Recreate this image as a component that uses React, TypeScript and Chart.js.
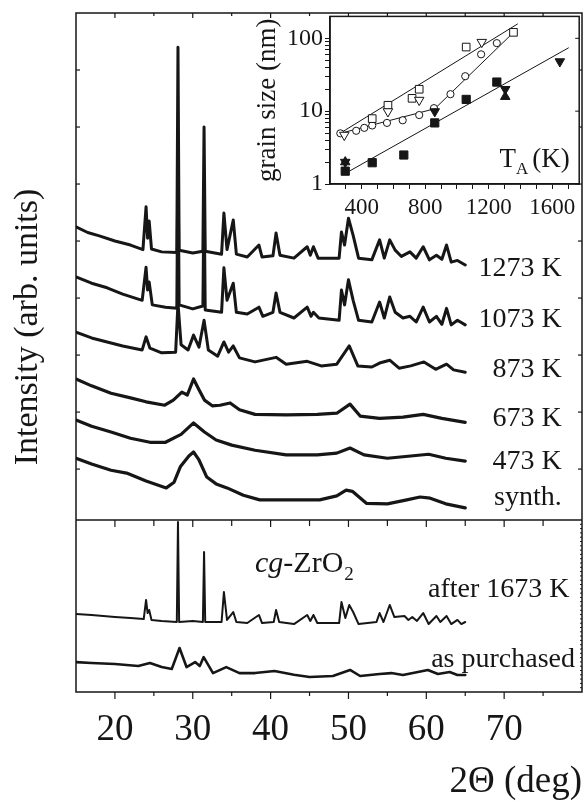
import React, { useEffect, useRef } from 'react';
import { Chart, registerables } from 'chart.js';

Chart.register(...registerables);

const SERIF = '"Liberation Serif", "Times New Roman", serif';
const INK = '#161616';

// ---------- main XRD panel ----------
const X_MIN = 15;
const X_MAX = 80;
const X_LABELED = [20, 30, 40, 50, 60, 70];
const X_MAJOR = [20, 30, 40, 50, 60, 70];
const X_MINOR = [25, 35, 45, 55, 65, 75];
const UP_MIN = -3.91;
const UP_MAX = 8;
const UP_TICKS = [0, 1, 2, 3, 4, 5, 6, 7];
const LOW_MIN = 0;
const LOW_MAX = 39.48;
const LOW_TOP = 10;
const Y_TITLE = '      Intensity (arb. units)';

// upper panel traces: [2theta (deg), intensity (arb. units)]
const T1273: [number, number][] = [
  [15, 4.25], [16.5, 4.15], [18, 4.09], [20, 4.0], [22, 3.93], [23.6, 3.85], [24.0, 4.6], [24.2, 4.05],
  [24.4, 4.35], [24.7, 3.86], [26, 3.81], [27.95, 3.8], [28.1, 7.4], [28.25, 3.84], [30, 3.79], [31.3, 3.82],
  [31.45, 6.0], [31.6, 3.82], [33.7, 3.77], [34.0, 4.49], [34.4, 3.85], [35.2, 4.37], [35.6, 3.77], [37, 3.72],
  [38.5, 3.93], [38.9, 3.72], [40.3, 3.74], [40.7, 4.14], [41.2, 3.75], [43, 3.7], [44.7, 3.9], [45.1, 3.75],
  [45.5, 3.9], [46.1, 3.7], [48.8, 3.7], [49.1, 4.16], [49.5, 3.93], [50.0, 4.4], [50.6, 4.1], [51.3, 3.7],
  [53, 3.67], [54.0, 4.02], [54.6, 3.7], [55.3, 4.02], [56.0, 3.84], [56.8, 3.73], [57.9, 3.81], [58.7, 3.7],
  [59.6, 3.9], [60.4, 3.67], [61.3, 3.75], [62.0, 3.68], [62.6, 3.93], [63.2, 3.63], [64.0, 3.66], [65, 3.58],
];
const T1073: [number, number][] = [
  [15, 3.37], [17, 3.26], [19, 3.18], [21, 3.07], [23.5, 2.96], [24.0, 3.54], [24.2, 3.14], [24.4, 3.28],
  [24.8, 2.88], [26.5, 2.84], [27.95, 2.82], [28.1, 5.6], [28.25, 2.88], [30, 2.81], [31.3, 2.86], [31.45, 4.89],
  [31.6, 2.79], [33.7, 2.75], [34.0, 3.53], [34.4, 2.96], [35.2, 3.26], [35.6, 2.75], [37, 2.72], [38.5, 2.84],
  [39, 2.68], [40.3, 2.75], [40.7, 3.09], [41.2, 2.75], [43, 2.65], [44.7, 2.84], [45.2, 2.68], [45.5, 2.75],
  [46.2, 2.65], [48.8, 2.61], [49.1, 3.14], [49.5, 2.88], [50.0, 3.32], [50.6, 2.96], [51.3, 2.61], [53, 2.58],
  [54.0, 2.93], [54.6, 2.65], [55.3, 3.02], [56.0, 2.75], [57, 2.65], [57.9, 2.68], [58.7, 2.58], [59.6, 2.84],
  [60.4, 2.58], [61.3, 2.68], [62.0, 2.54], [62.6, 2.82], [63.2, 2.53], [64.0, 2.61], [65, 2.53],
];
const T873: [number, number][] = [
  [15, 2.4], [17, 2.3], [19, 2.23], [21, 2.16], [23.5, 2.09], [24.0, 2.32], [24.5, 2.12], [26, 2.04],
  [27.8, 2.05], [28.1, 2.91], [28.5, 2.18], [29.4, 2.09], [30.1, 2.35], [30.8, 2.14], [31.45, 2.61], [32.0, 2.09],
  [33.2, 1.98], [34.0, 2.23], [34.6, 2.05], [35.2, 2.16], [36, 1.95], [38, 1.88], [40.7, 1.96], [42, 1.84],
  [44.7, 1.89], [46.5, 1.81], [48.5, 1.84], [50.1, 2.16], [51.2, 1.81], [53, 1.79], [54, 1.86], [55.3, 1.91],
  [56.5, 1.77], [58, 1.81], [59.7, 1.88], [61.2, 1.75], [62.6, 1.84], [63.5, 1.74], [65, 1.7],
];
const T673: [number, number][] = [
  [15, 1.58], [17, 1.46], [19.5, 1.33], [22, 1.25], [24, 1.18], [26.4, 1.12], [27.5, 1.21], [28.6, 1.35],
  [29.3, 1.3], [30.1, 1.58], [30.8, 1.39], [31.5, 1.21], [32.5, 1.11], [33.5, 1.12], [34.8, 1.16], [36, 1.04],
  [38, 0.96], [42, 0.95], [46, 0.96], [48.5, 0.98], [50.2, 1.14], [51.5, 0.93], [54, 0.89], [57, 0.91],
  [59.6, 0.96], [62, 0.89], [65, 0.82],
];
const T473: [number, number][] = [
  [15, 0.86], [17, 0.75], [19.5, 0.65], [22, 0.54], [24.5, 0.47], [26.5, 0.47], [28.5, 0.61], [30.1, 0.81],
  [31.5, 0.65], [33, 0.51], [35, 0.42], [38, 0.33], [42, 0.25], [46, 0.25], [48.5, 0.28], [50.2, 0.37],
  [52, 0.25], [55, 0.19], [58, 0.23], [60.3, 0.26], [62.5, 0.19], [65, 0.14],
];
const TSYNTH: [number, number][] = [
  [15, 0.19], [17, 0.09], [19.5, -0.02], [21.5, -0.07], [24, -0.21], [26.6, -0.33], [27.6, -0.23], [28.4, 0.04],
  [29.5, 0.23], [30.1, 0.3], [30.8, 0.16], [31.8, -0.14], [33, -0.26], [34.4, -0.33], [36.5, -0.46], [38.6, -0.54],
  [42, -0.54], [46.3, -0.54], [48.5, -0.47], [49.7, -0.37], [50.5, -0.39], [52.3, -0.6], [55, -0.61], [57.5, -0.54],
  [59.2, -0.49], [60.5, -0.51], [62.5, -0.61], [65, -0.68],
];

// lower panel traces (coarse-grained reference ZrO2)
const T1673: [number, number][] = [
  [15, 4.53], [17, 4.48], [20, 4.36], [22, 4.3], [23.7, 4.24], [24.0, 5.35], [24.2, 4.59], [24.4, 4.77],
  [24.7, 4.19], [26, 4.13], [27.95, 4.07], [28.1, 9.88], [28.25, 4.07], [30, 4.13], [31.3, 4.07], [31.45, 8.14],
  [31.6, 4.07], [33.7, 4.07], [34.0, 5.81], [34.4, 4.19], [35.2, 4.65], [35.6, 4.07], [37, 4.01], [38.5, 4.48],
  [38.9, 4.01], [40.4, 4.07], [40.7, 4.77], [41.1, 4.07], [43, 3.95], [44.7, 4.48], [45.1, 4.13], [45.5, 4.48],
  [46, 4.01], [48.8, 4.01], [49.1, 5.23], [49.6, 4.3], [50.1, 5.06], [50.6, 4.65], [51.3, 3.95], [53.6, 4.07],
  [54.0, 4.59], [54.5, 4.07], [55.3, 5.06], [55.9, 4.36], [57.2, 4.42], [57.7, 4.19], [58.2, 4.36], [58.8, 4.13],
  [59.6, 4.59], [60.3, 3.95], [61.3, 4.42], [61.8, 4.07], [62.6, 4.42], [63.2, 3.95], [64.0, 4.19], [64.5, 3.95],
  [65, 4.07],
];
const TPURCH: [number, number][] = [
  [15, 1.74], [17, 1.69], [20, 1.63], [23, 1.51], [24.5, 1.69], [26, 1.45], [27.3, 1.34], [28.3, 2.56],
  [29.2, 1.45], [30.3, 1.74], [30.9, 1.51], [31.4, 2.03], [32.6, 1.1], [34.3, 1.45], [36, 1.1], [38, 1.1],
  [40.5, 1.22], [43, 1.0], [45, 0.87], [48, 0.93], [50.2, 1.28], [51.5, 0.93], [54, 1.05], [55.5, 1.1],
  [57, 0.99], [60.2, 1.28], [61.5, 1.05], [63, 1.16], [64, 0.99], [65, 0.99],
];

const TRACE_LABELS = [
  { text: '1273 K', x: 77.4, y: 3.39, axis: 'y' },
  { text: '1073 K', x: 77.4, y: 2.49, axis: 'y' },
  { text: '873 K', x: 77.4, y: 1.61, axis: 'y' },
  { text: '673 K', x: 77.4, y: 0.75, axis: 'y' },
  { text: '473 K', x: 77.4, y: 0.0, axis: 'y' },
  { text: 'synth.', x: 77.4, y: -0.63, axis: 'y' },
  { text: 'after 1673 K', x: 78.4, y: 5.52, axis: 'yL' },
  { text: 'as purchased', x: 79.1, y: 1.45, axis: 'yL' },
];
const CG_LABEL = { x: 38.0, y: 6.98 };

// ---------- inset: grain size vs annealing temperature ----------
const K_MIN = 200;
const K_MAX = 1770;
const K_TICKS = [300, 400, 500, 600, 700, 800, 900, 1000, 1100, 1200, 1300, 1400, 1500, 1600, 1700];
const K_LABELS = [400, 800, 1200, 1600];
const G_MIN = 1;
const G_MAX = 200;
const G_TICKS = [1, 2, 3, 4, 5, 6, 7, 8, 9, 10, 20, 30, 40, 50, 60, 70, 80, 90, 100];
const G_LABELS = [1, 10, 100];
const G_RIGHT_TICKS = [1, 10, 100];

const OPEN_CIRCLE: [number, number][] = [
  [265, 4.96], [365, 5.38], [416, 5.9], [466, 6.36], [559, 6.9], [658, 7.5], [762, 8.84], [855, 11],
  [959, 17.1], [1052, 30.2], [1152, 60.3], [1251, 85.9],
];
const OPEN_SQUARE: [number, number][] = [
  [466, 7.9], [565, 12.05], [717, 15], [762, 20], [1058, 75.9], [1356, 120.8],
];
const OPEN_DOWN: [number, number][] = [
  [290, 4.7], [565, 9.9], [762, 14.2], [1156, 88.6],
];
const FILLED_SQUARE: [number, number][] = [
  [296, 1.5], [466, 1.96], [665, 2.5], [860, 6.9], [1058, 14.5], [1251, 25.1],
];
const FILLED_DOWN: [number, number][] = [
  [296, 2.0], [860, 9.9], [1304, 20], [1648, 48],
];
const FILLED_UP: [number, number][] = [
  [296, 2.0], [1304, 15.8],
];
const FIT_1: [number, number][] = [[276, 5.17], [1383, 158]];
const FIT_2: [number, number][] = [[265, 4.96], [860, 10.8], [1363, 124.6]];
const FIT_3: [number, number][] = [[307, 1.44], [1704, 74.3]];
const TA_LABEL = { x: 1268, y: 1.69 };

const pts = (a: [number, number][]) => a.map(([x, y]) => ({ x, y }));

function mainDecor() {
  return {
    id: 'mainDecor',
    afterDatasetsDraw(chart: any) {
      const { ctx, chartArea: a, scales } = chart;
      const x = scales.x;
      const yU = scales.y;
      const yL = scales.yL;
      const yDiv = yL.getPixelForValue(LOW_TOP);
      ctx.save();
      ctx.strokeStyle = INK;
      ctx.lineWidth = 1.5;
      ctx.strokeRect(a.left, a.top, a.right - a.left, a.bottom - a.top);
      ctx.beginPath();
      ctx.moveTo(a.left, yDiv);
      ctx.lineTo(a.right, yDiv);
      ctx.stroke();
      ctx.lineWidth = 1.2;
      const tick = (x0: number, y0: number, x1: number, y1: number) => {
        ctx.beginPath();
        ctx.moveTo(x0, y0);
        ctx.lineTo(x1, y1);
        ctx.stroke();
      };
      X_MAJOR.forEach((v) => {
        const px = x.getPixelForValue(v);
        tick(px, a.top, px, a.top + 5);
        tick(px, yDiv, px, yDiv + 7);
        tick(px, a.bottom, px, a.bottom + 7);
      });
      X_MINOR.forEach((v) => {
        const px = x.getPixelForValue(v);
        tick(px, a.top, px, a.top + 3);
        tick(px, yDiv, px, yDiv + 6);
        tick(px, a.bottom, px, a.bottom + 4);
      });
      UP_TICKS.forEach((v) => {
        const py = yU.getPixelForValue(v);
        tick(a.left, py, a.left + 4, py);
        tick(a.right, py, a.right - 4, py);
      });
      ctx.lineWidth = 1;
      for (let v = LOW_MIN + 0.25; v < LOW_TOP; v += 0.25) {
        const py = yL.getPixelForValue(v);
        tick(a.right, py, a.right - 2, py);
      }
      ctx.fillStyle = INK;
      ctx.textBaseline = 'alphabetic';
      ctx.textAlign = 'right';
      ctx.font = `28px ${SERIF}`;
      TRACE_LABELS.forEach((l) => {
        const sc = l.axis === 'y' ? yU : yL;
        ctx.fillText(l.text, x.getPixelForValue(l.x), sc.getPixelForValue(l.y));
      });
      // cg-ZrO2
      let cx = x.getPixelForValue(CG_LABEL.x);
      const cy = yL.getPixelForValue(CG_LABEL.y);
      ctx.textAlign = 'left';
      ctx.font = `italic 30px ${SERIF}`;
      ctx.fillText('cg', cx, cy);
      cx += ctx.measureText('cg').width;
      ctx.font = `30px ${SERIF}`;
      ctx.fillText('-ZrO', cx, cy);
      cx += ctx.measureText('-ZrO').width + 1;
      ctx.font = `19px ${SERIF}`;
      ctx.fillText('2', cx, cy + 8);
      ctx.restore();
    },
  };
}

function insetDecor() {
  return {
    id: 'insetDecor',
    beforeDraw(chart: any) {
      const { ctx, chartArea: a } = chart;
      ctx.save();
      ctx.fillStyle = '#ffffff';
      ctx.fillRect(a.left, a.top, a.right - a.left, a.bottom - a.top);
      ctx.restore();
    },
    afterDraw(chart: any) {
      const { ctx, chartArea: a, scales } = chart;
      ctx.save();
      ctx.strokeStyle = INK;
      ctx.lineWidth = 1.5;
      ctx.strokeRect(a.left, a.top, a.right - a.left, a.bottom - a.top);
      ctx.lineWidth = 1;
      G_RIGHT_TICKS.forEach((v) => {
        const py = scales.y.getPixelForValue(v);
        ctx.beginPath();
        ctx.moveTo(a.right, py);
        ctx.lineTo(a.right - 4, py);
        ctx.stroke();
      });
      const tx = scales.x.getPixelForValue(TA_LABEL.x);
      const ty = scales.y.getPixelForValue(TA_LABEL.y);
      ctx.fillStyle = INK;
      ctx.textAlign = 'left';
      ctx.textBaseline = 'alphabetic';
      ctx.font = `27px ${SERIF}`;
      ctx.fillText('T', tx, ty);
      let cx = tx + ctx.measureText('T').width;
      ctx.font = `17px ${SERIF}`;
      ctx.fillText('A', cx, ty + 7);
      cx += ctx.measureText('A').width + 4;
      ctx.font = `27px ${SERIF}`;
      ctx.fillText('(K)', cx, ty);
      ctx.restore();
    },
  };
}

const traceDs = (data: [number, number][], yAxisID: string, width: number) => ({
  data: pts(data),
  yAxisID,
  borderColor: INK,
  borderWidth: width,
  borderJoinStyle: 'round',
  borderCapStyle: 'round',
  pointRadius: 0,
  tension: 0,
  fill: false,
});

const markerDs = (data: [number, number][], style: string, radius: number, filled: boolean, rotation = 0) => ({
  data: pts(data),
  pointStyle: style,
  pointRadius: radius,
  pointRotation: rotation,
  pointBackgroundColor: filled ? INK : '#ffffff',
  pointBorderColor: INK,
  pointBorderWidth: 1,
  showLine: false,
});

const lineDs = (data: [number, number][]) => ({
  data: pts(data),
  showLine: true,
  borderColor: INK,
  borderWidth: 1,
  pointRadius: 0,
});

export default function App() {
  const mainRef = useRef<HTMLCanvasElement | null>(null);
  const insetRef = useRef<HTMLCanvasElement | null>(null);

  useEffect(() => {
    const main = new Chart(mainRef.current as HTMLCanvasElement, {
      type: 'line',
      data: {
        datasets: [
          traceDs(T1273, 'y', 3.0),
          traceDs(T1073, 'y', 3.0),
          traceDs(T873, 'y', 3.0),
          traceDs(T673, 'y', 3.2),
          traceDs(T473, 'y', 3.2),
          traceDs(TSYNTH, 'y', 3.2),
          traceDs(T1673, 'yL', 2.0),
          traceDs(TPURCH, 'yL', 2.6),
        ] as any,
      },
      options: {
        responsive: false,
        animation: false,
        devicePixelRatio: 1,
        events: [],
        layout: { padding: { top: 13, right: 4, left: 0, bottom: 0 } },
        plugins: { legend: { display: false }, tooltip: { enabled: false } },
        scales: {
          x: {
            type: 'linear',
            min: X_MIN,
            max: X_MAX,
            afterBuildTicks: (s: any) => {
              s.ticks = X_LABELED.map((v) => ({ value: v }));
            },
            afterFit: (s: any) => {
              s.height = 110;
            },
            grid: { display: false, drawTicks: false },
            border: { display: false },
            ticks: { autoSkip: false, maxRotation: 0, padding: 16, color: INK, font: { family: SERIF, size: 37 } },
            title: {
              display: true,
              text: '2Θ (deg)',
              align: 'end',
              color: INK,
              font: { family: SERIF, size: 37, lineHeight: 1 },
              padding: { top: 0, bottom: 1 },
            },
          },
          y: {
            type: 'linear',
            min: UP_MIN,
            max: UP_MAX,
            afterFit: (s: any) => {
              s.width = 76;
            },
            grid: { display: false, drawTicks: false },
            border: { display: false },
            ticks: { display: false },
            title: {
              display: true,
              text: Y_TITLE,
              color: INK,
              font: { family: SERIF, size: 34, lineHeight: 1 },
              padding: { top: 11, bottom: 0 },
            },
          },
          yL: { type: 'linear', display: false, min: LOW_MIN, max: LOW_MAX },
        },
      } as any,
      plugins: [mainDecor()],
    });

    const inset = new Chart(insetRef.current as HTMLCanvasElement, {
      type: 'scatter',
      data: {
        datasets: [
          markerDs(FILLED_UP, 'triangle', 5.5, true),
          markerDs(FILLED_DOWN, 'triangle', 5.5, true, 180),
          markerDs(FILLED_SQUARE, 'rect', 5.8, true),
          markerDs(OPEN_DOWN, 'triangle', 5.5, false, 180),
          markerDs(OPEN_SQUARE, 'rect', 5.4, false),
          markerDs(OPEN_CIRCLE, 'circle', 3.6, false),
          lineDs(FIT_1),
          lineDs(FIT_2),
          lineDs(FIT_3),
        ] as any,
      },
      options: {
        responsive: false,
        animation: false,
        devicePixelRatio: 1,
        events: [],
        layout: { padding: { top: 13, right: 4, left: 0, bottom: 0 } },
        plugins: { legend: { display: false }, tooltip: { enabled: false } },
        scales: {
          x: {
            type: 'linear',
            min: K_MIN,
            max: K_MAX,
            afterBuildTicks: (s: any) => {
              s.ticks = K_TICKS.map((v) => ({ value: v }));
            },
            afterFit: (s: any) => {
              s.height = 46;
            },
            grid: { display: true, drawOnChartArea: false, drawTicks: true, tickLength: 5, color: INK, lineWidth: 1 },
            border: { display: true, color: INK, width: 1.5 },
            ticks: {
              autoSkip: false,
              maxRotation: 0,
              padding: 5,
              color: INK,
              font: { family: SERIF, size: 23 },
              callback: (v: any) => (K_LABELS.includes(Number(v)) ? String(v) : ''),
            },
          },
          y: {
            type: 'logarithmic',
            min: G_MIN,
            max: G_MAX,
            afterBuildTicks: (s: any) => {
              s.ticks = G_TICKS.map((v) => ({ value: v }));
            },
            afterFit: (s: any) => {
              s.width = 90;
            },
            grid: { display: true, drawOnChartArea: false, drawTicks: true, tickLength: 5, color: INK, lineWidth: 1 },
            border: { display: true, color: INK, width: 1.5 },
            ticks: {
              autoSkip: false,
              padding: 2,
              color: INK,
              font: { family: SERIF, size: 24 },
              callback: (v: any) => (G_LABELS.includes(Number(v)) ? String(v) : ''),
            },
            title: {
              display: true,
              text: 'grain size (nm)',
              color: INK,
              font: { family: SERIF, size: 27, lineHeight: 1 },
              padding: { top: 14, bottom: 0 },
            },
          },
        },
      } as any,
      plugins: [insetDecor()],
    });

    return () => {
      main.destroy();
      inset.destroy();
    };
  }, []);

  return (
    <div style={{ position: 'fixed', left: 0, top: 0, width: 586, height: 802, background: '#ffffff' }}>
      <canvas ref={mainRef} width={586} height={802} style={{ position: 'absolute', left: 0, top: 0, width: 586, height: 802 }} />
      <canvas ref={insetRef} width={346} height={230} style={{ position: 'absolute', left: 240, top: 0, width: 346, height: 230 }} />
    </div>
  );
}
